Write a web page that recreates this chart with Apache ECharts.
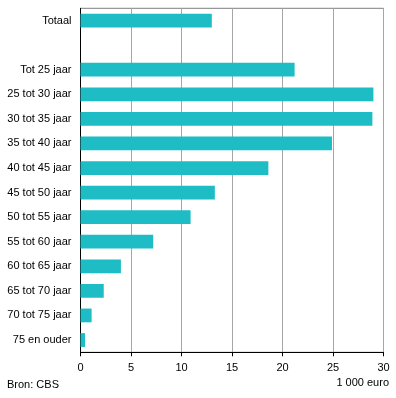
<!DOCTYPE html>
<html><head><meta charset="utf-8">
<script src="https://cdn.jsdelivr.net/npm/echarts@6/dist/echarts.min.js"></script>
<style>html,body{margin:0;padding:0;background:#fff}#c{width:396px;height:398px}</style>
</head><body><div id="c"></div>
<script>
const categories = ['Totaal', '', 'Tot 25 jaar', '25 tot 30 jaar', '30 tot 35 jaar', '35 tot 40 jaar', '40 tot 45 jaar', '45 tot 50 jaar', '50 tot 55 jaar', '55 tot 60 jaar', '60 tot 65 jaar', '65 tot 70 jaar', '70 tot 75 jaar', '75 en ouder'];
const values = [13.0, null, 21.2, 29.0, 28.9, 24.9, 18.6, 13.3, 10.9, 7.2, 4.0, 2.3, 1.1, 0.45];
const xTicks = [0, 5, 10, 15, 20, 25, 30];
const unitLabel = '1 000 euro';
const sourceLabel = 'Bron: CBS';

const font = 'Liberation Sans, Arial, sans-serif';
const chart = echarts.init(document.getElementById('c'), null, {renderer: 'canvas'});
chart.setOption({
  animation: false,
  grid: {left: 80.5, right: 12.5, top: 8.3, bottom: 45.7, show: true, borderColor: '#7f7f7f', borderWidth: 1, backgroundColor: 'transparent'},
  xAxis: {
    type: 'value', min: xTicks[0], max: xTicks[xTicks.length - 1], interval: 5,
    axisLine: {show: true, lineStyle: {color: '#000', width: 1}},
    axisTick: {show: true, length: 4, lineStyle: {color: '#000'}},
    axisLabel: {color: '#000', fontFamily: font, fontSize: 11, margin: 10},
    splitLine: {show: true, lineStyle: {color: '#a6a6a6', width: 1}}
  },
  yAxis: {
    type: 'category', data: categories, inverse: true,
    axisLine: {show: true, lineStyle: {color: '#000', width: 1}},
    axisTick: {show: false},
    axisLabel: {color: '#000', fontFamily: font, fontSize: 11, margin: 9},
    splitLine: {show: false}
  },
  series: [{
    type: 'bar', data: values, barWidth: '56%',
    itemStyle: {color: '#1ebcc5'}
  }],
  graphic: [
    {type: 'text', left: 7, top: 379, style: {text: sourceLabel, font: '11px ' + font, fill: '#000'}},
    {type: 'text', right: 7, top: 377, style: {text: unitLabel, font: '11px ' + font, fill: '#000'}}
  ]
});
</script></body></html>
